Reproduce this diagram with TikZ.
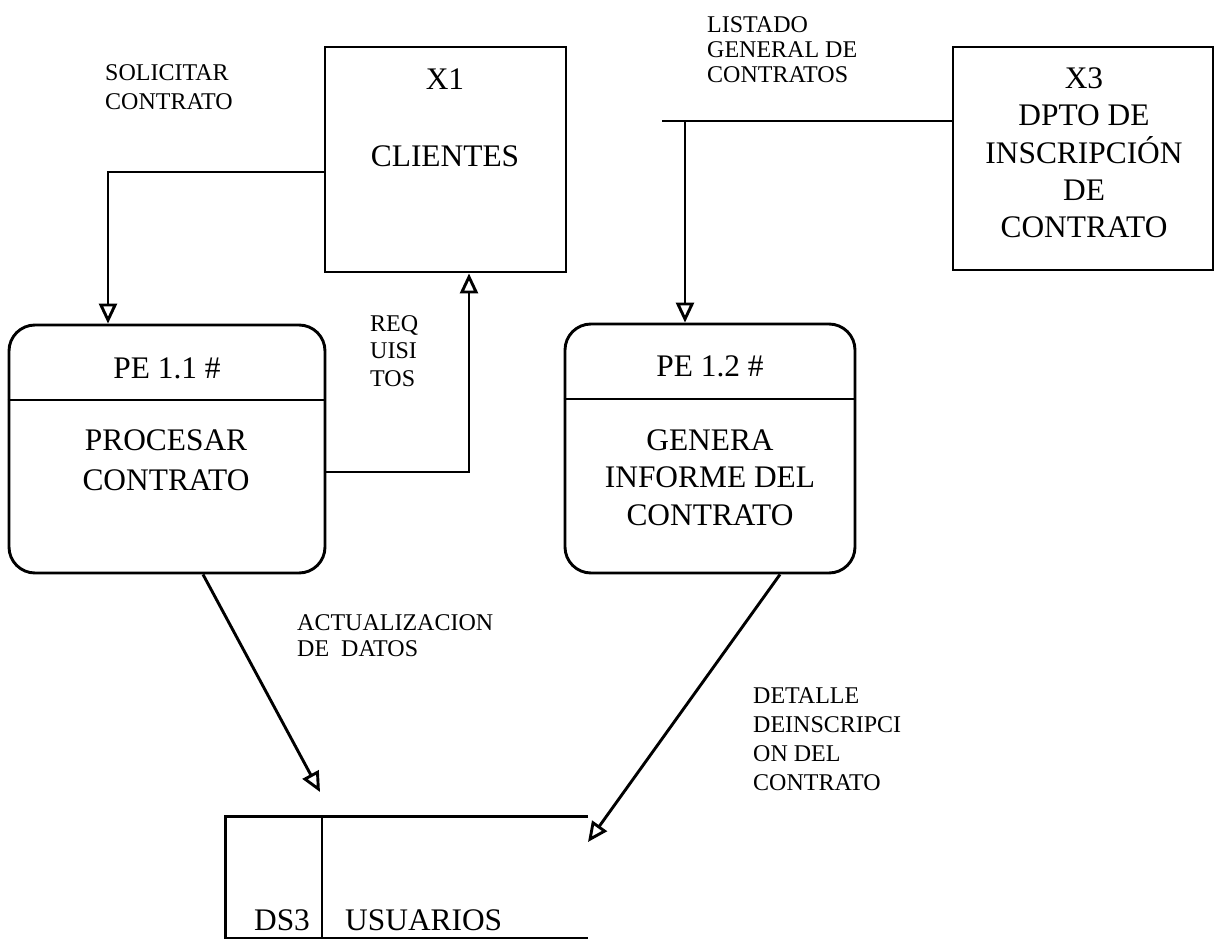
\documentclass[tikz,border=0pt]{standalone}
\usepackage{fontspec}
\setmainfont{Liberation Serif}
\usetikzlibrary{arrows.meta}
\begin{document}
\begin{tikzpicture}[x=1pt,y=-1pt,
  wire/.style={line width=2.9pt},
  flow/.style={wire, -{Triangle[open,length=20pt,width=18pt]}},
  entity/.style={draw, line width=2.9pt, rectangle, inner sep=0pt},
  procbox/.style={draw, line width=2.9pt, rounded corners=26pt, inner sep=0pt},
  bigtext/.style={font=\fontsize{31.4}{#1}\selectfont, align=center, inner sep=0pt, anchor=base},
  bigtext/.default=37.5,
  flowlabel/.style={font=\fontsize{24}{#1}\selectfont, align=left, inner sep=0pt, anchor=base west}]
\useasboundingbox (0,0) rectangle (1216,939);

% external entities (multi-line texts are placed by the baseline of their last line)
\node[entity, minimum width=241pt, minimum height=225pt] (x1) at (445.5,159.5) {};
\node[bigtext] (x1id) at (445,90) {X1};
\node[bigtext] (x1name) at (445,167) {CLIENTES};

\node[entity, minimum width=260pt, minimum height=223pt] (x3) at (1083,158.5) {};
\node[bigtext=37.3] (x3name) at (1084,237.7) {X3\\DPTO DE\\INSCRIPCIÓN\\DE\\CONTRATO};

% processes
\node[procbox, minimum width=316pt, minimum height=248pt] (pe11) at (167,449) {};
\coordinate (div11) at (0,400);
\draw[wire] (pe11.west |- div11) -- (pe11.east |- div11);
\node[bigtext] (pe11id) at (167,378) {PE 1.1 \#};
\node[bigtext=40] (pe11name) at (166,490) {PROCESAR\\CONTRATO};

\node[procbox, minimum width=290pt, minimum height=249pt] (pe12) at (710,448.5) {};
\coordinate (div12) at (0,399);
\draw[wire] (pe12.west |- div12) -- (pe12.east |- div12);
\node[bigtext] (pe12id) at (710,376) {PE 1.2 \#};
\node[bigtext=37.5] (pe12name) at (710,525) {GENERA\\INFORME DEL\\CONTRATO};

% data store
\node[inner sep=0pt, minimum width=362pt, minimum height=121pt] (ds3) at (407,877.5) {};
\coordinate (dscol) at (322,0);
\draw[wire] (ds3.north east) -- (ds3.north west) -- (ds3.south west) -- (ds3.south east);
\draw[wire] (ds3.north -| dscol) -- (ds3.south -| dscol);
\node[bigtext] (ds3id) at (282,930) {DS3};
\node[bigtext, anchor=base west] (ds3name) at (345,930) {USUARIOS};

% data flows
\coordinate (solrow) at (0,172);
\coordinate (solcol) at (108,0);
\draw[flow] (x1.west |- solrow) -| (pe11.north -| solcol);

\coordinate (reqrow) at (0,472);
\coordinate (reqcol) at (469,0);
\draw[flow] (pe11.east |- reqrow) -| (x1.south -| reqcol);

\coordinate (lstart) at (662,121);
\coordinate (ljoin) at (685,121);
\draw[wire] (lstart) -- (x3.west |- lstart);
\draw[flow] (ljoin) -- (pe12.north -| ljoin);

\coordinate (actcol) at (203,0);
\coordinate (acttip) at (320,792);
\draw[flow] (pe11.south -| actcol) -- (acttip);

\coordinate (detcol) at (780,0);
\coordinate (dettip) at (588,842);
\draw[flow] (pe12.south -| detcol) -- (dettip);

% flow labels
\node[flowlabel=29] (lsol) at (105,110) {SOLICITAR\\CONTRATO};
\node[flowlabel=27.5] (lreq) at (370,386) {REQ\\UISI\\TOS};
\node[flowlabel=25] (llist) at (707,83) {LISTADO\\GENERAL DE\\CONTRATOS};
\node[flowlabel=26] (lact) at (297,656) {ACTUALIZACION\\DE\ \ DATOS};
\node[flowlabel=29] (ldet) at (753,790) {DETALLE\\DEINSCRIPCI\\ON DEL\\CONTRATO};
\end{tikzpicture}
\end{document}
